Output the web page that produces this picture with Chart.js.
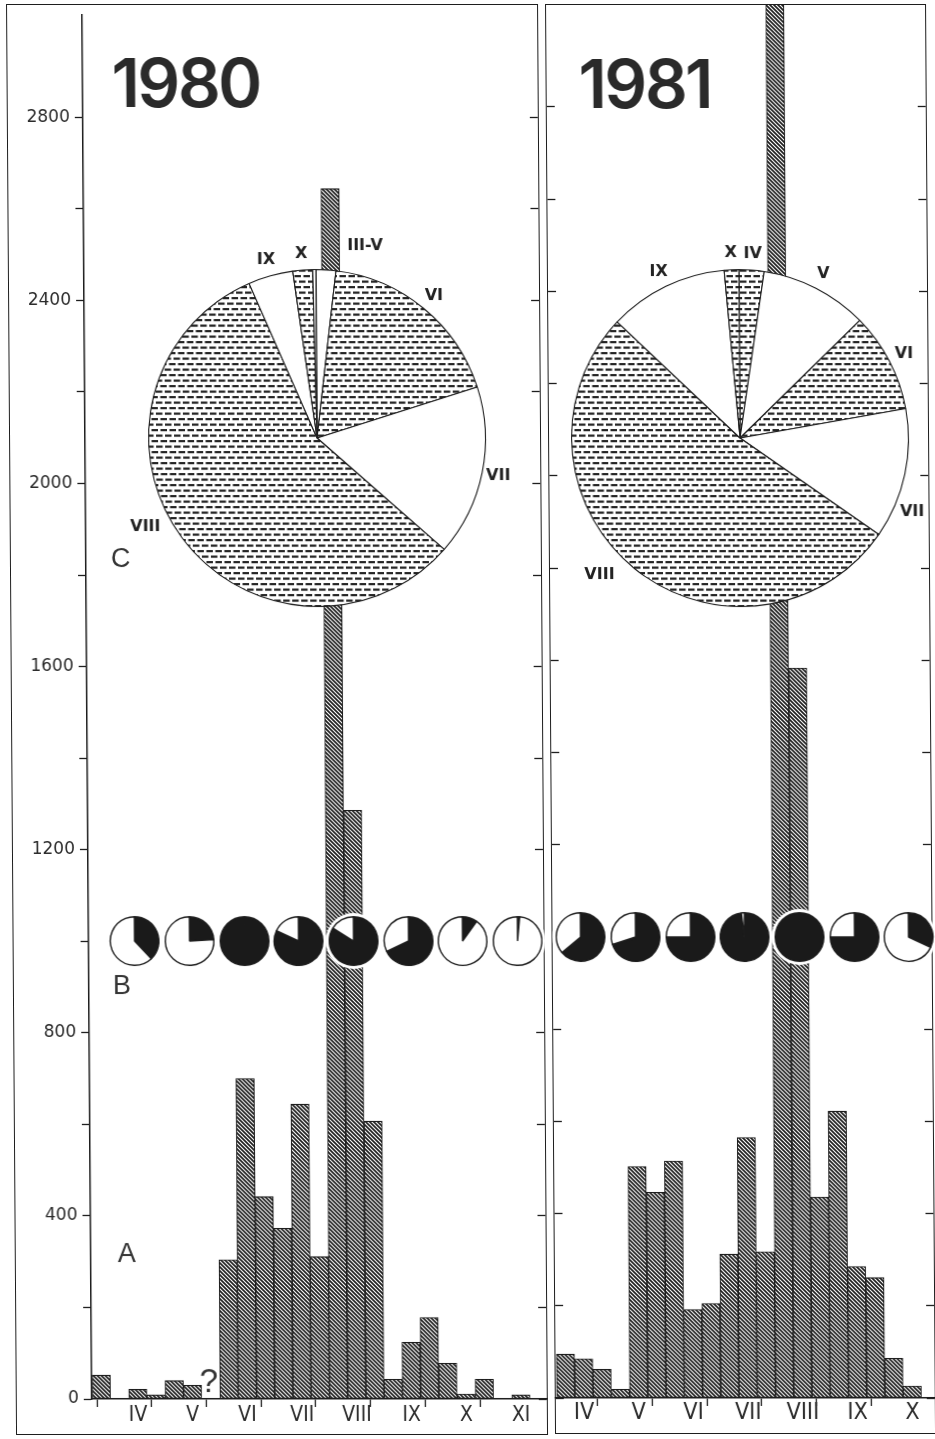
<!DOCTYPE html>
<html>
<head>
<meta charset="utf-8">
<script src="https://cdn.jsdelivr.net/npm/chart.js@4.4.1/dist/chart.umd.min.js"></script>
<style>
  html, body { margin: 0; padding: 0; background: #ffffff; }
  #page { position: relative; width: 935px; height: 1439px; overflow: hidden; background: #ffffff;
          transform-origin: 0 0; transform: matrix(1, 0, 0.007, 1, 0, 0); }
  #page canvas { position: absolute; }
  .frame { position: absolute; border: 1.5px solid #1e1e1e; box-sizing: border-box; }
  .txt { position: absolute; color: #222; white-space: nowrap; line-height: 1; }
  .year { font-family: Inter, "Liberation Sans", Arial, sans-serif; font-weight: 600; font-size: 67px; letter-spacing: -2.5px;
          font-variant-numeric: proportional-nums; color: #2a2a2a; }
  .panel { font-family: "Liberation Sans", Arial, sans-serif; font-size: 27px; color: #333; }
</style>
</head>
<body>
<div id="page">
  <div class="frame" style="left:6.25px;top:4.25px;width:531.5px;height:1430.5px;"></div>
  <div class="frame" style="left:545.25px;top:4.25px;width:380.5px;height:1429.5px;"></div>
</div>
<script>
// ---------------- data ----------------
const monthLabels1980 = ['IV', 'V', 'VI', 'VII', 'VIII', 'IX', 'X', 'XI'];
const monthLabels1981 = ['IV', 'V', 'VI', 'VII', 'VIII', 'IX', 'X'];
// ten-day (dekad) catches, three per month; 1980 starts with the last dekad of March (III-3)
const dekadCounts1980 = [52, null, 21, 9, 40, 30, null, 304, 700, 442, 373, 644, 311, 2644, 1286, 607, 43, 124, 178, 78, 11, 43, null, 9];
// 1981 starts with the first dekad of April (IV-1)
const dekadCounts1981 = [95, 85, 62, 19, 502, 446, 514, 192, 205, 312, 565, 317, 3040, 1583, 436, 622, 285, 261, 86, 26];
const yTickValues = [0, 200, 400, 600, 800, 1000, 1200, 1400, 1600, 1800, 2000, 2200, 2400, 2600, 2800];
const yLabelStep = 400;
// C: monthly share of the season total (%)
const pieLabels1980 = ['III-V', 'VI', 'VII', 'VIII', 'IX', 'X', ''];
const pieShares1980 = [1.9, 18.2, 16.4, 57.0, 4.3, 1.9, 0.3];
const pieLabels1981 = ['IV', 'V', 'VI', 'VII', 'VIII', 'IX', 'X'];
const pieShares1981 = [2.4, 10.3, 9.5, 12.5, 52.4, 11.5, 1.4];
// B: dark share of each monthly circle (%)
const darkShare1980 = [38, 24, 100, 82, 84, 68, 10, 1.5];
const darkShare1981 = [64, 70, 75, 98, 100, 75, 32];
const rowBLevel = 1000;
const pieCentreLevel = 2100;

// ---------------- styling helpers ----------------
const INK = '#1c1c1c';
function makeHatch() {
  const c = document.createElement('canvas'); c.width = 4; c.height = 4;
  const g = c.getContext('2d');
  g.fillStyle = '#ffffff'; g.fillRect(0, 0, 4, 4);
  g.strokeStyle = '#1e1e1e'; g.lineWidth = 1.7;
  g.beginPath();
  g.moveTo(0, 0); g.lineTo(4, 4);
  g.moveTo(-1, 3); g.lineTo(1, 5);
  g.moveTo(3, -1); g.lineTo(5, 1);
  g.stroke();
  return g.createPattern(c, 'repeat');
}
function makeDash() {
  const c = document.createElement('canvas'); c.width = 9; c.height = 11;
  const g = c.getContext('2d');
  g.fillStyle = '#ffffff'; g.fillRect(0, 0, 9, 11);
  g.fillStyle = '#222222';
  g.fillRect(0.5, 2, 6.5, 2.2);
  g.fillRect(5, 7.5, 4, 2.2);
  g.fillRect(0, 7.5, 2.5, 2.2);
  return g.createPattern(c, 'repeat');
}
const hatch = makeHatch();
const dash = makeDash();
const page = document.getElementById('page');

function mkCanvas(x, y, w, h, extraStyle) {
  const cv = document.createElement('canvas');
  cv.width = w; cv.height = h;
  cv.style.left = x + 'px'; cv.style.top = y + 'px';
  cv.style.width = w + 'px'; cv.style.height = h + 'px';
  if (extraStyle) Object.assign(cv.style, extraStyle);
  page.appendChild(cv);
  return cv;
}
function addText(cls, text, x, y, style) {
  const d = document.createElement('div');
  d.className = 'txt ' + cls;
  d.textContent = text;
  d.style.left = x + 'px'; d.style.top = y + 'px';
  if (style) Object.assign(d.style, style);
  page.appendChild(d);
  return d;
}

// ---------------- bar panels ----------------
function barPanel(cfg) {
  const points = cfg.counts.map((v, i) => ({ x: i + cfg.firstDekad, y: v })).filter(p => p.y !== null);
  const boundaries = cfg.months.map((_, m) => 3 * (m + cfg.firstMonth) - 0.5);
  const centres = cfg.months.map((_, m) => 3 * (m + cfg.firstMonth) + 1);
  const tickVals = boundaries.concat(centres).filter(v => v >= cfg.xmin && v <= cfg.xmax).sort((a, b) => a - b);
  const labelFor = v => { const k = centres.indexOf(v); return k >= 0 ? cfg.months[k] : ''; };
  const isBoundary = v => Math.abs(v - Math.round(v)) > 0.25;
  const cv = mkCanvas(cfg.left, 0, cfg.width, 1439);
  const yCommon = {
    type: 'linear', min: 0, max: cfg.ymax,
    afterBuildTicks: ax => { ax.ticks = yTickValues.map(v => ({ value: v })); }
  };
  const chart = new Chart(cv, {
    type: 'bar',
    data: { datasets: [{
      data: points, backgroundColor: hatch, borderColor: INK, borderWidth: 1.1,
      borderSkipped: false, barPercentage: 1, categoryPercentage: 1
    }] },
    options: {
      responsive: false, animation: false, events: [], devicePixelRatio: 1,
      layout: { padding: cfg.padding },
      plugins: { legend: { display: false }, tooltip: { enabled: false } },
      scales: {
        x: {
          type: 'linear', min: cfg.xmin, max: cfg.xmax, offset: false,
          afterBuildTicks: ax => { ax.ticks = tickVals.map(v => ({ value: v })); },
          afterFit: ax => { ax.height = cfg.xHeight; },
          grid: { drawOnChartArea: false, drawTicks: true, tickLength: 8, tickWidth: 1.3,
                  tickColor: c => (c.tick && isBoundary(c.tick.value)) ? INK : 'rgba(0,0,0,0)' },
          border: { display: true, color: INK, width: 1.5 },
          ticks: { autoSkip: false, maxRotation: 0, minRotation: 0, padding: cfg.xPad, color: '#2a2a2a',
                   font: { family: '"Liberation Sans Narrow", "DejaVu Sans Condensed", "Liberation Sans", sans-serif', size: cfg.xFont },
                   callback: v => labelFor(v) }
        },
        y: Object.assign({}, yCommon, {
          position: 'left',
          afterFit: ax => { ax.width = cfg.yWidth; },
          grid: { drawOnChartArea: false, tickLength: cfg.yLabels ? 8 : -8, tickWidth: 1.3, tickColor: INK },
          border: { display: cfg.yLabels, color: INK, width: 1.5 },
          ticks: { display: cfg.yLabels, padding: 5, color: '#2a2a2a',
                   font: { family: '"DejaVu Sans", sans-serif', size: 17 },
                   callback: v => (v % yLabelStep === 0 ? String(v) : '') }
        }),
        y2: Object.assign({}, yCommon, {
          position: 'right',
          afterFit: ax => { ax.width = 0; },
          grid: { drawOnChartArea: false, tickLength: -8, tickWidth: 1.3, tickColor: INK },
          border: { display: false },
          ticks: { display: false }
        })
      }
    }
  });
  // B: monthly circles placed on the panel's own scales
  centres.forEach((c, k) => {
    if (k >= cfg.dark.length) return;
    const px = cfg.left + chart.scales.x.getPixelForValue(c);
    const py = chart.scales.y.getPixelForValue(rowBLevel);
    const s = 56;
    const pc = mkCanvas(px - s / 2, py - s / 2, s, s, { background: '#ffffff', borderRadius: '50%' });
    const d = cfg.dark[k];
    new Chart(pc, {
      type: 'pie',
      data: { datasets: [{ data: [d, 100 - d], backgroundColor: ['#1a1a1a', '#ffffff'], borderColor: INK, borderWidth: 1.4 }] },
      options: { responsive: false, animation: false, events: [], devicePixelRatio: 1, layout: { padding: 3 },
                 plugins: { legend: { display: false }, tooltip: { enabled: false } } }
    });
  });
  return chart;
}

const left1980 = barPanel({
  left: 0, width: 541, counts: dekadCounts1980, firstDekad: 2, months: monthLabels1980, firstMonth: 1,
  xmin: 1.473, xmax: 26.418, ymax: 3023, padding: { left: 0, right: 4, top: 5, bottom: 0 },
  xHeight: 40, yWidth: 82, yLabels: true, xFont: 21, xPad: -4, dark: darkShare1980
});
const right1981 = barPanel({
  left: 541, width: 394, counts: dekadCounts1981, firstDekad: 0, months: monthLabels1981, firstMonth: 0,
  xmin: -0.544, xmax: 20.235, ymax: 3021, padding: { left: 5, right: 10, top: 5, bottom: 0 },
  xHeight: 41, yWidth: 0, yLabels: false, xFont: 23, xPad: -7, dark: darkShare1981
});

// ---------------- C: monthly share pies ----------------
function labelPlugin(labels, adjust) {
  return {
    id: 'pieLabels',
    afterDatasetsDraw(chart) {
      const ctx = chart.ctx;
      const meta = chart.getDatasetMeta(0);
      ctx.save();
      ctx.font = 'bold 16px "DejaVu Sans", sans-serif';
      ctx.fillStyle = '#222';
      ctx.textAlign = 'center'; ctx.textBaseline = 'middle';
      meta.data.forEach((arc, i) => {
        const t = labels[i]; if (!t) return;
        const p = arc.getProps(['x', 'y', 'startAngle', 'endAngle', 'outerRadius'], true);
        const adj = adjust[t] || { da: 0, dr: 0 };
        const a = (p.startAngle + p.endAngle) / 2 + adj.da * Math.PI / 180;
        const r = p.outerRadius + 16.5 + adj.dr;
        ctx.fillText(t, p.x + r * Math.cos(a), p.y + r * Math.sin(a));
      });
      ctx.restore();
    }
  };
}
function sharePie(cx, cy, labels, shares, fills, adjust) {
  const size = 440;
  const cv = mkCanvas(cx - size / 2, cy - size / 2, size, size);
  new Chart(cv, {
    type: 'pie',
    data: { labels: labels, datasets: [{ data: shares, backgroundColor: fills, borderColor: INK, borderWidth: 1.1 }] },
    options: { responsive: false, animation: false, events: [], devicePixelRatio: 1, layout: { padding: 51 },
               plugins: { legend: { display: false }, tooltip: { enabled: false } } },
    plugins: [labelPlugin(labels, adjust)]
  });
}
const pieCy = left1980.scales.y.getPixelForValue(pieCentreLevel);
sharePie(314, pieCy, pieLabels1980, pieShares1980,
  ['#ffffff', dash, '#ffffff', dash, '#ffffff', dash, '#ffffff'],
  { 'III-V': { da: 11, dr: 13 }, 'VIII': { da: 8.7, dr: 9 } });
sharePie(736.5, pieCy, pieLabels1981, pieShares1981,
  [dash, '#ffffff', dash, '#ffffff', dash, '#ffffff', dash],
  { 'VII': { da: 11, dr: 2 }, 'VIII': { da: 6.7, dr: 12 } });

// ---------------- texts ----------------
addText('year', '1980', 111, 49);
addText('year', '1981', 578, 50);
addText('panel', 'C', 107, 544.5);
addText('panel', 'B', 106, 971.5);
addText('panel', 'A', 109, 1239.5);
addText('panel', '?', 190, 1363.5, { fontSize: '33px' });
</script>
</body>
</html>
